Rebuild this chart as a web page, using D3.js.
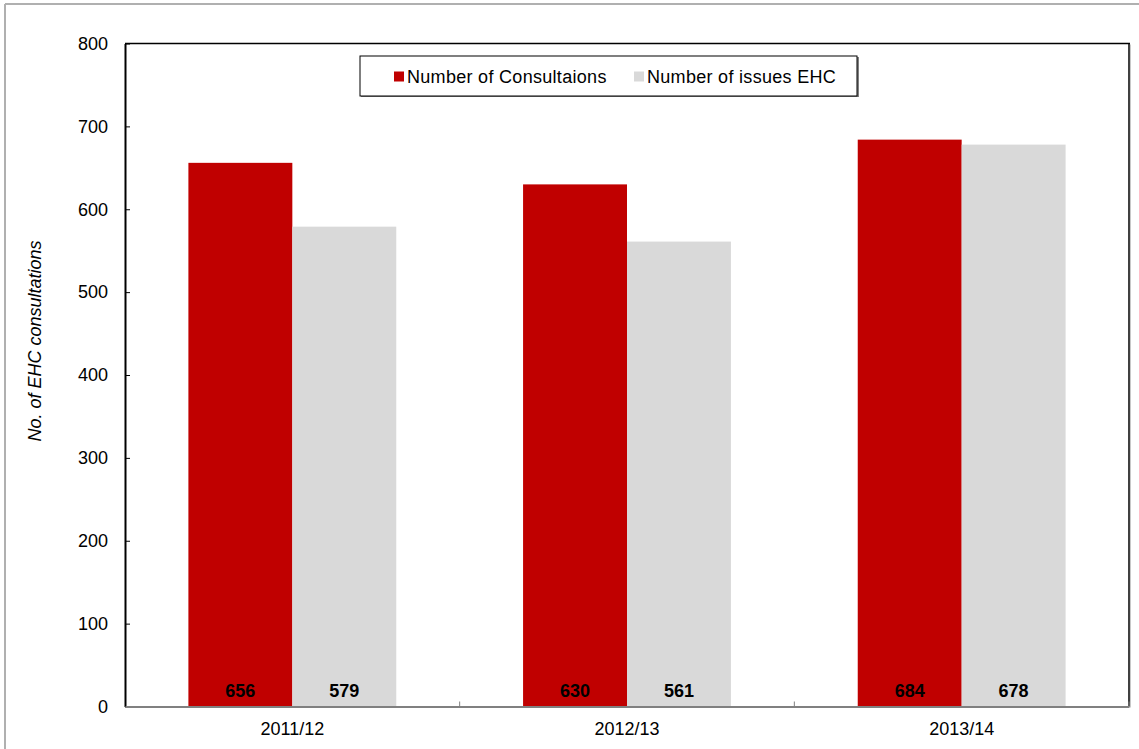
<!DOCTYPE html>
<html>
<head>
<meta charset="utf-8">
<script src="https://cdn.jsdelivr.net/npm/d3@7"></script>
<style>
  body { margin: 0; background: #fff; }
  svg { display: block; font-family: Arial, "Liberation Sans", sans-serif; }
</style>
</head>
<body>
<div id="chart"></div>
<script>
// 数据
const years = ['2011/12', '2012/13', '2013/14'];
const seriesNames = ['Number of Consultaions', 'Number of issues EHC'];
const consultations = [656, 630, 684];
const issuesEHC = [579, 561, 678];
const yTicks = [0, 100, 200, 300, 400, 500, 600, 700, 800];
const colors = ['#c00000', '#d9d9d9'];

const width = 1139, height = 749;
const margin = { top: 43.5, right: 10, bottom: 42.5, left: 125 };
const plotRight = width - margin.right;
const plotBottom = height - margin.bottom;
const fontFamily = 'Arial, "Liberation Sans", sans-serif';

const svg = d3.select('#chart').append('svg')
    .attr('width', width)
    .attr('height', height);

// 外框
svg.append('line').attr('x1', 5).attr('y1', 4).attr('x2', width).attr('y2', 4)
    .attr('stroke', '#b0b0b0').attr('stroke-width', 2);
svg.append('line').attr('x1', 5).attr('y1', 4).attr('x2', 5).attr('y2', height)
    .attr('stroke', '#b0b0b0').attr('stroke-width', 2);

const x0 = d3.scaleBand()
    .domain(years)
    .range([margin.left, plotRight])
    .padding(0);

const x1 = d3.scaleBand()
    .domain(seriesNames)
    .range([0, x0.bandwidth()])
    .paddingInner(0)
    .paddingOuter(0.61);

const y = d3.scaleLinear()
    .domain([0, 800])
    .range([plotBottom, margin.top]);

// 绘图区边框（上、右）
svg.append('line').attr('x1', margin.left).attr('x2', plotRight + 1)
    .attr('y1', margin.top).attr('y2', margin.top)
    .attr('stroke', '#000').attr('stroke-width', 1.5);
svg.append('line').attr('x1', plotRight).attr('x2', plotRight)
    .attr('y1', margin.top).attr('y2', plotBottom)
    .attr('stroke', '#000').attr('stroke-width', 1.5);
svg.append('line').attr('x1', plotRight + 1.5).attr('x2', plotRight + 1.5)
    .attr('y1', margin.top + 1).attr('y2', plotBottom + 1)
    .attr('stroke', '#c8c8c8').attr('stroke-width', 1);

// 柱子
const rows = years.map((yr, i) => ({ year: yr, values: [consultations[i], issuesEHC[i]] }));

const groups = svg.selectAll('.group')
    .data(rows)
    .enter()
    .append('g')
    .attr('class', 'group')
    .attr('transform', d => `translate(${x0(d.year)},0)`);

groups.selectAll('rect')
    .data(d => d.values.map((v, k) => ({ key: seriesNames[k], value: v, k })))
    .enter()
    .append('rect')
    .attr('x', d => x1(d.key))
    .attr('y', d => y(d.value))
    .attr('width', x1.bandwidth())
    .attr('height', d => y(0) - y(d.value))
    .attr('fill', d => colors[d.k]);

groups.selectAll('.val')
    .data(d => d.values.map((v, k) => ({ key: seriesNames[k], value: v, k })))
    .enter()
    .append('text')
    .attr('class', 'val')
    .attr('x', d => x1(d.key) + x1.bandwidth() / 2)
    .attr('y', plotBottom - 9.5)
    .attr('text-anchor', 'middle')
    .attr('font-size', '18px')
    .attr('font-weight', 'bold')
    .attr('fill', '#000')
    .text(d => d.value);

// Y轴
const yAxis = svg.append('g')
    .attr('transform', `translate(${margin.left},0)`)
    .call(d3.axisLeft(y).tickValues(yTicks).tickSize(-5).tickPadding(17).tickSizeOuter(0));
yAxis.select('.domain').attr('stroke', '#000').attr('stroke-width', 2);
yAxis.selectAll('.tick line').attr('stroke', '#000');
yAxis.selectAll('.tick text')
    .attr('font-size', '18px')
    .attr('fill', '#000')
    .attr('font-family', fontFamily);

// X轴
const xAxis = svg.append('g')
    .attr('transform', `translate(0,${plotBottom})`)
    .call(d3.axisBottom(x0).tickSize(0).tickPadding(16).tickSizeOuter(0));
xAxis.select('.domain').attr('stroke', '#808080').attr('stroke-width', 2);
xAxis.selectAll('.tick text')
    .attr('font-size', '18px')
    .attr('fill', '#000')
    .attr('font-family', fontFamily);

// X轴分隔刻度
svg.selectAll('.xsep')
    .data(years)
    .enter()
    .append('line')
    .attr('class', 'xsep')
    .attr('x1', d => x0(d) + x0.bandwidth())
    .attr('x2', d => x0(d) + x0.bandwidth())
    .attr('y1', plotBottom)
    .attr('y2', plotBottom - 5)
    .attr('stroke', '#808080')
    .attr('stroke-width', 1);

// Y轴标题
svg.append('text')
    .attr('transform', `translate(41,${(margin.top + plotBottom) / 2 - 34}) rotate(-90)`)
    .attr('text-anchor', 'middle')
    .attr('font-size', '18px')
    .attr('font-style', 'italic')
    .attr('fill', '#000')
    .text('No. of EHC consultations');

// 图例
const legend = svg.append('g').attr('transform', 'translate(360,56)');
legend.append('rect')
    .attr('x', 1).attr('y', 1)
    .attr('width', 498).attr('height', 40)
    .attr('fill', '#808080');
legend.append('rect')
    .attr('width', 497).attr('height', 40)
    .attr('fill', '#fff')
    .attr('stroke', '#000')
    .attr('stroke-width', 1);

const legendX = [34, 274];
seriesNames.forEach((name, k) => {
    legend.append('rect')
        .attr('x', legendX[k]).attr('y', 15.5)
        .attr('width', 10).attr('height', 10)
        .attr('fill', colors[k]);
    legend.append('text')
        .attr('x', legendX[k] + 13)
        .attr('y', 27)
        .attr('font-size', '18px')
        .attr('letter-spacing', '0.3px')
        .attr('fill', '#000')
        .text(name);
});
</script>
</body>
</html>
